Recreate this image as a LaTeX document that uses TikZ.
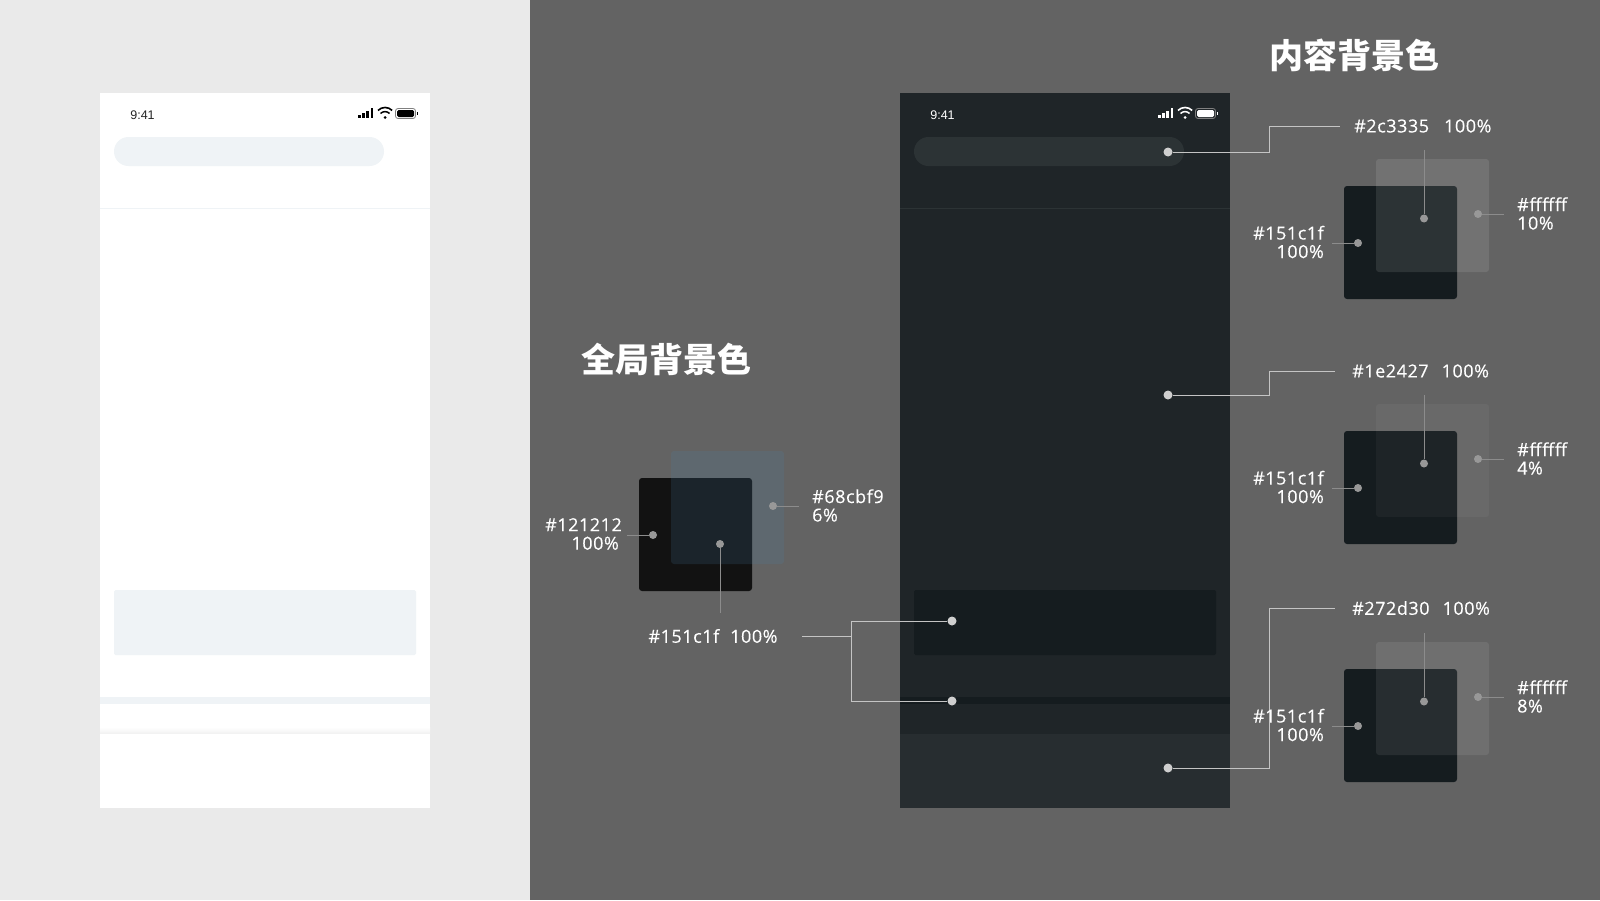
\documentclass[tikz,border=0pt]{standalone}
\usepackage{fontspec}
\setmainfont[LetterSpace=3,FakeBold=0.25]{Open Sans}
\newfontfamily\cjkfont{Noto Sans CJK SC}
\newfontfamily\timefont{Liberation Sans}
\usetikzlibrary{positioning}
\definecolor{leftbg}{HTML}{EAEAEA}
\definecolor{rightbg}{HTML}{636363}
\definecolor{cardlight}{HTML}{EFF3F6}
\definecolor{pagedark}{HTML}{1F2528}
\definecolor{cardblack}{HTML}{151C1F}
\definecolor{pilldark}{HTML}{2C3335}
\definecolor{tabdark}{HTML}{272D30}
\definecolor{wire}{HTML}{C4C4C4}
\definecolor{wirelow}{HTML}{8C8C8C}
\definecolor{spot}{HTML}{CFCFCF}
\definecolor{spotlow}{HTML}{989898}
\definecolor{tint}{RGB}{74,136,175}
\tikzset{%
  % blocks
  block/.style={anchor=north west, inner sep=0pt, outer sep=0pt},
  phone/.style={block, minimum width=330pt, minimum height=715pt},
  pill/.style={block, minimum width=270pt, minimum height=29pt, rounded corners=14.5pt},
  card/.style={block, minimum width=302pt, minimum height=65pt, rounded corners=1.5pt},
  band/.style={block, minimum width=330pt, minimum height=7pt},
  swatch/.style={block, minimum width=113pt, minimum height=113pt, rounded corners=3pt},
  % dots and edges
  dot/.style={circle, fill=spot, minimum size=9pt, inner sep=0pt},
  lowdot/.style={circle, fill=spotlow, minimum size=8pt, inner sep=0pt},
  link/.style={draw=wire, line width=1pt},
  lowlink/.style={draw=wirelow, line width=1pt},
  % text
  tag/.style={text=white, inner sep=0pt, font=\fontsize{18}{18.5}\selectfont},
  heading/.style={text=white, inner sep=0pt, font=\fontsize{34}{36}\selectfont\cjkfont\bfseries},
  clock/.style={inner sep=0pt, font=\fontsize{12.5}{14}\selectfont\timefont},
  statusbar/.pic={
    \foreach \i/\h in {0/3,1/5,2/7.5,3/10}
      \fill (358+\i*4.2,118) rectangle ++(2.8,-\h);
    \fill (385,117.5) circle (1.5pt);
    \draw[line width=1.5pt] (380.5,113.5) arc[start angle=-135, end angle=-45, radius=6.4];
    \draw[line width=1.6pt] (378,110.4) arc[start angle=-135, end angle=-45, radius=10];
    \fill[rounded corners=1.5pt] (397,110) rectangle (414,117);
    \draw[draw=gray, line width=0.8pt, rounded corners=2.5pt] (395.5,108.5) rectangle (415.5,118.5);
    \fill (416.5,112) rectangle (417.5,115);
  },
}

\begin{document}
\begin{tikzpicture}[x=1pt, y=-1pt]
  \path[use as bounding box] (0,0) rectangle (1600,900);
  \fill[leftbg] (0,0) rectangle (530,900);
  \fill[rightbg] (530,0) rectangle (1600,900);

  % light phone
  \node[phone, fill=white] (lphone) at (100,93) {};
  \node[clock, text=black!85] (ltime) at (142.5,115) {9:41};
  \pic[color=black] (lbar) at (0,0) {statusbar};
  \node[pill, fill=cardlight] (lpill) at (114,137) {};
  \draw[cardlight, line width=1pt] (lphone.west |- 0,208) coordinate (lrulea) -- (lphone.east |- 0,208) coordinate (lruleb);
  \node[card, fill=cardlight] (lcard) at (114,590) {};
  \node[band, fill=cardlight] (lband) at (100,697) {};
  \node[block, minimum width=330pt, minimum height=6pt, top color=white, bottom color=black!5] (lshade) at (100,727) {};

  % dark phone
  \node[phone, fill=pagedark] (dphone) at (900,93) {};
  \node[clock, text=white!85] (dtime) at (942.5,115) {9:41};
  \pic[color=white, xshift=800pt] (dbar) at (0,0) {statusbar};
  \node[pill, fill=pilldark] (dpill) at (914,137) {};
  \draw[pilldark, line width=1pt] (dphone.west |- 0,208) coordinate (drulea) -- (dphone.east |- 0,208) coordinate (druleb);
  \node[card, fill=cardblack] (dcard) at (914,590) {};
  \node[band, fill=cardblack] (dband) at (900,697) {};
  \node[block, fill=tabdark, minimum width=330pt, minimum height=74pt] (dtab) at (900,734) {};

  % global background
  \node[heading] (gtitle) at (666,359) {全局背景色};
  \node[swatch, fill=black!93] (gback) at (639,478) {};
  \node[swatch, fill=tint, fill opacity=0.16] (gfront) at (671,451) {};
  \node[lowdot] (gbackdot) at (653,535) {};
  \node[lowdot] (gfrontdot) at (773,506) {};
  \node[lowdot] (gmixdot) at (720,544) {};
  \coordinate (gbackend) at (627,535);
  \coordinate (gfrontend) at (799,506);
  \coordinate (gmixend) at (720,613);
  \draw[lowlink] (gbackdot) -- (gbackend);
  \draw[lowlink] (gfrontdot) -- (gfrontend);
  \draw[lowlink] (gmixdot) -- (gmixend);
  \node[tag, align=right, left=5pt of gbackend, yshift=1pt] (gbacktag) {\#121212\\100\%\,};
  \node[tag, align=left, right=13pt of gfrontend, yshift=0.5pt] (gfronttag) {\#68cbf9\\6\%};
  \node[tag] (gmixtag) at (713,636) {\#151c1f\hspace{11pt}100\%};

  \node[dot] (cardspot) at (952,621) {};
  \node[dot] (bandspot) at (952,701) {};
  \coordinate (gmixout) at (802,636);
  \coordinate (gfork) at (851,636);
  \draw[link] (gmixout) -- (gfork);
  \draw[link] (cardspot) -| (gfork) |- (bandspot);

  % content background
  \node[heading] (ctitle) at (1354,55) {内容背景色};

  \node[dot] (pillspot) at (1168,152) {};
  \coordinate (pillend) at (1340,126);
  \draw[link] (pillspot) -| (1269,126) -- (pillend);
  \node[tag, right=14pt of pillend] (pilltag) {\#2c3335\hspace{15pt}100\%};
  \node[swatch, fill=cardblack] (aback) at (1344,186) {};
  \node[swatch, fill=white, fill opacity=0.10] (afront) at (1376,159) {};
  \node[lowdot] (abackdot) at (1358,243) {};
  \node[lowdot] (afrontdot) at (1478,214) {};
  \node[lowdot] (amixdot) at (1424,218.5) {};
  \coordinate (abackend) at (1332,243);
  \coordinate (afrontend) at (1504,214);
  \coordinate (amixend) at (1424,150);
  \draw[lowlink] (abackdot) -- (abackend);
  \draw[lowlink] (afrontdot) -- (afrontend);
  \draw[lowlink] (amixdot) -- (amixend);
  \node[tag, align=right, left=8pt of abackend, yshift=1pt] (abacktag) {\#151c1f\\100\%};
  \node[tag, align=left, right=13pt of afrontend, yshift=0.5pt] (afronttag) {\#ffffff\\10\%};

  \node[dot] (pagespot) at (1168,395) {};
  \coordinate (pageend) at (1335,371);
  \draw[link] (pagespot) -| (1269,371) -- (pageend);
  \node[tag, right=17pt of pageend] (pagetag) {\#1e2427\hspace{13pt}100\%};
  \node[swatch, fill=cardblack] (bback) at (1344,431) {};
  \node[swatch, fill=white, fill opacity=0.04] (bfront) at (1376,404) {};
  \node[lowdot] (bbackdot) at (1358,488) {};
  \node[lowdot] (bfrontdot) at (1478,459) {};
  \node[lowdot] (bmixdot) at (1424,463.5) {};
  \coordinate (bbackend) at (1332,488);
  \coordinate (bfrontend) at (1504,459);
  \coordinate (bmixend) at (1424,395);
  \draw[lowlink] (bbackdot) -- (bbackend);
  \draw[lowlink] (bfrontdot) -- (bfrontend);
  \draw[lowlink] (bmixdot) -- (bmixend);
  \node[tag, align=right, left=8pt of bbackend, yshift=1pt] (bbacktag) {\#151c1f\\100\%};
  \node[tag, align=left, right=13pt of bfrontend, yshift=0.5pt] (bfronttag) {\#ffffff\\4\%};

  \node[dot] (tabspot) at (1168,768) {};
  \coordinate (tabend) at (1335,608);
  \draw[link] (tabspot) -| (1269,608) -- (tabend);
  \node[tag, right=17pt of tabend] (tabtag) {\#272d30\hspace{13pt}100\%};
  \node[swatch, fill=cardblack] (tback) at (1344,669) {};
  \node[swatch, fill=white, fill opacity=0.08] (tfront) at (1376,642) {};
  \node[lowdot] (tbackdot) at (1358,726) {};
  \node[lowdot] (tfrontdot) at (1478,697) {};
  \node[lowdot] (tmixdot) at (1424,701.5) {};
  \coordinate (tbackend) at (1332,726);
  \coordinate (tfrontend) at (1504,697);
  \coordinate (tmixend) at (1424,633);
  \draw[lowlink] (tbackdot) -- (tbackend);
  \draw[lowlink] (tfrontdot) -- (tfrontend);
  \draw[lowlink] (tmixdot) -- (tmixend);
  \node[tag, align=right, left=8pt of tbackend, yshift=1pt] (tbacktag) {\#151c1f\\100\%};
  \node[tag, align=left, right=13pt of tfrontend, yshift=0.5pt] (tfronttag) {\#ffffff\\8\%};
\end{tikzpicture}
\end{document}
